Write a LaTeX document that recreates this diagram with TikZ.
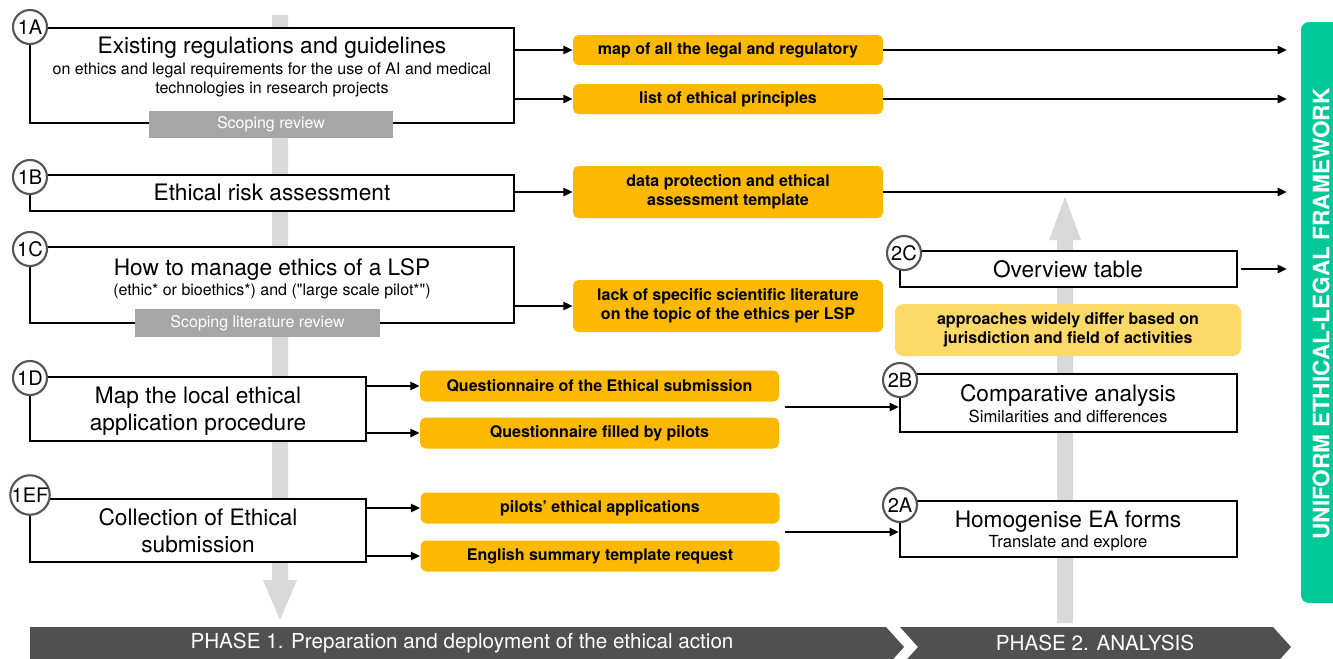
\documentclass[tikz,border=0pt]{standalone}
\usepackage{fontspec}
\setmainfont{TeX Gyre Heros}
\usetikzlibrary{arrows.meta,calc}
\definecolor{orangeb}{RGB}{252,185,0}
\definecolor{yellowb}{RGB}{253,217,106}
\definecolor{reviewgrey}{RGB}{166,166,166}
\definecolor{arrowgrey}{RGB}{217,217,217}
\definecolor{phasegrey}{RGB}{80,80,80}
\definecolor{greenb}{RGB}{0,200,150}
\definecolor{circgrey}{RGB}{85,85,85}
\begin{document}
\begin{tikzpicture}[x=0.75pt,y=-0.75pt,
  box/.style={draw=black,line width=1.6pt,fill=white,inner sep=0pt},
  obox/.style={fill=orangeb,rounded corners=4pt,inner sep=0pt,align=center,font=\bfseries\fontsize{12}{14.25}\selectfont},
  ybox/.style={fill=yellowb,rounded corners=6pt,inner sep=0pt,align=center,font=\bfseries\fontsize{12}{14.25}\selectfont},
  rbox/.style={fill=reviewgrey,text=white,inner sep=0pt,font=\fontsize{12}{14}\selectfont},
  numc/.style={circle,draw=circgrey,line width=1.6pt,fill=white,minimum size=25.5pt,inner sep=0pt,font=\fontsize{15}{15}\selectfont},
  ttl/.style={anchor=base,font=\fontsize{17}{20}\selectfont,inner sep=0pt},
  sbt/.style={anchor=base,font=\fontsize{12.5}{15}\selectfont,inner sep=0pt},
  arr/.style={line width=1.9pt,-{Triangle[length=7pt,width=6pt]}},
  phtxt/.style={text=white,font=\fontsize{15.5}{18}\selectfont,inner sep=0pt}
]
\useasboundingbox (0,0) rectangle (1333,658);
\clip (0,0) rectangle (1333,658);

% background grey arrows
\fill[arrowgrey] (272,15) -- (288,15) -- (288,580) -- (297,580) -- (280,620) -- (263,580) -- (272,580) -- cycle;
\fill[arrowgrey] (1057,623) -- (1073,623) -- (1073,240) -- (1081,240) -- (1065,197) -- (1049,240) -- (1057,240) -- cycle;

% right end coordinate
\coordinate (rend) at (1287,0);

% left boxes
\node[box,minimum width=363pt,minimum height=71.25pt] (b1A) at (272,75.5) {};
\node[ttl] (t1A) at (272,53) {Existing regulations and guidelines};
\node[sbt,font=\fontsize{12}{15}\selectfont] (s1Aa) at (272,74) {on ethics and legal requirements for the use of AI and medical};
\node[sbt,font=\fontsize{12}{15}\selectfont] (s1Ab) at (272,93) {technologies in research projects};
\node[rbox,minimum width=183pt,minimum height=20.25pt] (rev1) at (271,124.5) {Scoping review};

\node[box,minimum width=363pt,minimum height=27pt] (b1B) at (272,193) {};
\node[ttl] (t1B) at (272,200) {Ethical risk assessment};

\node[box,minimum width=363pt,minimum height=57pt] (b1C) at (272,285) {};
\node[ttl] (t1C) at (272,275) {How to manage ethics of a LSP};
\node[sbt,font=\fontsize{12}{15}\selectfont] (s1C) at (272,295) {(ethic* or bioethics*) and (\textquotedbl large scale pilot*\textquotedbl)};
\node[rbox,minimum width=183.75pt,minimum height=21pt] (rev2) at (257.5,323) {Scoping literature review};

\node[box,minimum width=252pt,minimum height=48pt] (b1D) at (198,409) {};
\node[ttl] (t1Da) at (198,403) {Map the local ethical};
\node[ttl] (t1Db) at (198,430) {application procedure};

\node[box,minimum width=252pt,minimum height=47.25pt] (b1EF) at (198,530.5) {};
\node[ttl] (t1Ea) at (198,525) {Collection of Ethical};
\node[ttl] (t1Eb) at (198,552) {submission};

% number circles (left)
\node[numc] (c1A) at (30,27) {1A};
\node[numc] (c1B) at (30,177) {1B};
\node[numc] (c1C) at (30,249) {1C};
\node[numc] (c1D) at (30,378) {1D};
\node[numc] (c1EF) at (30,495) {1EF};

% orange outputs
\node[obox,minimum width=232.5pt,minimum height=22.5pt] (oA1) at (728,50) {map of all the legal and regulatory};
\node[obox,minimum width=232.5pt,minimum height=22.5pt] (oA2) at (728,99) {list of ethical principles};
\node[obox,minimum width=232.5pt,minimum height=39pt] (oB) at (728,192) {data protection and ethical\\assessment template};
\node[obox,minimum width=232.5pt,minimum height=39pt] (oC) at (728,306) {lack of specific scientific literature\\on the topic of the ethics per LSP};
\node[obox,minimum width=269.25pt,minimum height=23.25pt] (oD1) at (599.5,386) {Questionnaire of the Ethical submission};
\node[obox,minimum width=269.25pt,minimum height=23.25pt] (oD2) at (599.5,433) {Questionnaire filled by pilots};
\node[obox,minimum width=269.25pt,minimum height=23.25pt] (oE1) at (600,508) {pilots’ ethical applications};
\node[obox,minimum width=269.25pt,minimum height=23.25pt] (oE2) at (600,556) {English summary template request};

% right boxes
\node[box,minimum width=252.75pt,minimum height=27pt] (b2C) at (1068.5,269) {};
\node[ttl] (t2C) at (1068,277) {Overview table};
\node[ybox,minimum width=259.5pt,minimum height=39pt] (yel) at (1068,330) {approaches widely differ based on\\jurisdiction and field of activities};
\node[box,minimum width=252.75pt,minimum height=43.5pt] (b2B) at (1068.5,403) {};
\node[ttl] (t2B) at (1068,401) {Comparative analysis};
\node[sbt] (s2B) at (1068,422) {Similarities and differences};
\node[box,minimum width=252.75pt,minimum height=42pt] (b2A) at (1068.5,529) {};
\node[ttl] (t2A) at (1068,527) {Homogenise EA forms};
\node[sbt] (s2A) at (1068,547) {Translate and explore};
\node[numc] (c2C) at (904,253) {2C};
\node[numc] (c2B) at (900,380) {2B};
\node[numc] (c2A) at (900,505) {2A};

% connectors
\draw[arr] (b1A.east |- oA1) -- (oA1.west);
\draw[arr] (b1A.east |- oA2) -- (oA2.west);
\draw[arr] (oA1.east) -- (oA1.east -| rend);
\draw[arr] (oA2.east) -- (oA2.east -| rend);
\draw[arr] (b1B.east |- oB) -- (oB.west);
\draw[arr] (oB.east) -- (oB.east -| rend);
\draw[arr] (b1C.east |- oC) -- (oC.west);
\draw[arr] (b1D.east |- oD1) -- (oD1.west);
\draw[arr] (b1D.east |- oD2) -- (oD2.west);
\draw[arr] (b1EF.east |- oE1) -- (oE1.west);
\draw[arr] (b1EF.east |- oE2) -- (oE2.west);
\coordinate (dmid) at (785,407);
\coordinate (emid) at (785,532);
\draw[arr] (dmid) -- (dmid -| b2B.west);
\draw[arr] (emid) -- (emid -| b2A.west);
\draw[arr] ([xshift=2.25pt]b2C.east) -- (b2C.east -| rend);

% phase bars
\fill[phasegrey] (30,627) -- (886,627) -- (904,647) -- (886,667) -- (30,667) -- cycle;
\fill[phasegrey] (900,627) -- (1273,627) -- (1291,647) -- (1273,667) -- (900,667) -- (918,647) -- cycle;
\node[phtxt] (ph1) at (462,643) {PHASE 1. Preparation and deployment of the ethical action};
\node[phtxt] (ph2) at (1095,643) {PHASE 2. ANALYSIS};

% green framework bar
\fill[greenb,rounded corners=6pt] (1301,22) rectangle (1350,603);
\node[rotate=90,text=white,font=\bfseries\fontsize{17}{20}\selectfont,inner sep=0pt] (frame) at (1321,314) {UNIFORM ETHICAL-LEGAL FRAMEWORK};
\end{tikzpicture}
\end{document}
